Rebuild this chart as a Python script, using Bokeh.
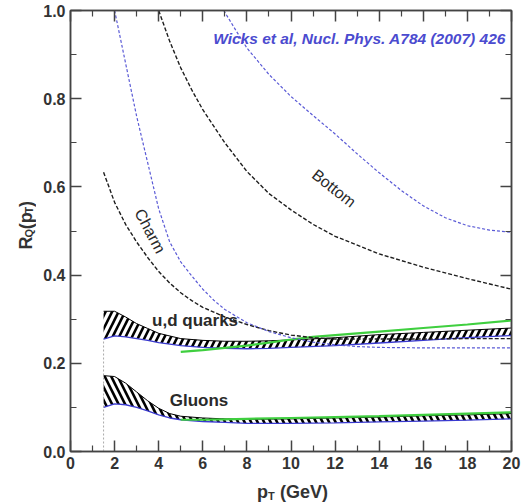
from math import pi
from bokeh.plotting import figure
from bokeh.layouts import column, row
from bokeh.models import LinearAxis, FixedTicker, Range1d, PrintfTickFormatter
from bokeh.embed import file_html
from bokeh.resources import INLINE
from bokeh.core.properties import value

FONT = "Liberation Sans"

# ---------------- data ----------------
x_ticks = [0, 2, 4, 6, 8, 10, 12, 14, 16, 18, 20]
x_minor = [1, 3, 5, 7, 9, 11, 13, 15, 17, 19]
y_ticks = [0.0, 0.2, 0.4, 0.6, 0.8, 1.0]
y_minor = [0.1, 0.3, 0.5, 0.7, 0.9]

bottom_k_x = [4.0, 4.5, 5.0, 5.5, 6.0, 7.0, 8.0, 9.0, 10, 11, 12, 14, 16, 18, 20]
bottom_k_y = [1.0, 0.93, 0.87, 0.82, 0.775, 0.70, 0.635, 0.585, 0.548, 0.515, 0.488, 0.448, 0.418, 0.392, 0.368]
bottom_b_x = [6.95, 7.5, 8.0, 9.0, 10, 11, 12, 13, 14, 15, 16, 17, 18, 19, 20]
bottom_b_y = [1.0, 0.955, 0.915, 0.855, 0.805, 0.762, 0.72, 0.675, 0.632, 0.592, 0.557, 0.53, 0.512, 0.502, 0.497]
charm_k_x = [1.5, 2.0, 2.5, 3.0, 3.5, 4.0, 4.5, 5.0, 5.5, 6.0, 7.0, 8.0, 9.0, 10, 11, 12, 14, 16, 18, 20]
charm_k_y = [0.633, 0.565, 0.515, 0.475, 0.44, 0.408, 0.382, 0.36, 0.342, 0.327, 0.305, 0.288, 0.274, 0.264, 0.258, 0.255, 0.255, 0.255, 0.256, 0.256]
charm_b_x = [2.0, 2.5, 3.0, 3.5, 4.0, 4.5, 5.0, 5.5, 6.0, 6.5, 7.0, 8.0, 9.0, 10, 11, 12, 13, 14, 16, 18, 20]
charm_b_y = [1.0, 0.88, 0.76, 0.655, 0.55, 0.475, 0.43, 0.398, 0.368, 0.343, 0.322, 0.292, 0.272, 0.258, 0.248, 0.242, 0.238, 0.236, 0.235, 0.235, 0.235]

ud_x = [1.5, 2.0, 2.5, 3.0, 3.5, 4.0, 5, 6, 7, 8, 9, 10, 12, 14, 16, 18, 20]
ud_hi = [0.318, 0.318, 0.305, 0.29, 0.279, 0.268, 0.256, 0.252, 0.25, 0.25, 0.251, 0.253, 0.258, 0.265, 0.27, 0.275, 0.28]
ud_lo = [0.255, 0.262, 0.26, 0.256, 0.252, 0.247, 0.24, 0.236, 0.234, 0.233, 0.234, 0.236, 0.24, 0.246, 0.252, 0.258, 0.263]
g_x = [1.5, 2.0, 2.5, 3.0, 3.5, 4.0, 4.5, 5.0, 6, 7, 8, 10, 12, 14, 16, 18, 20]
g_hi = [0.172, 0.17, 0.155, 0.135, 0.115, 0.098, 0.086, 0.08, 0.076, 0.074, 0.073, 0.074, 0.076, 0.078, 0.081, 0.083, 0.086]
g_lo = [0.1, 0.108, 0.106, 0.1, 0.092, 0.083, 0.076, 0.072, 0.068, 0.066, 0.064, 0.064, 0.065, 0.067, 0.069, 0.071, 0.074]

ud_green_x = [5, 6, 7, 8, 9, 10, 11, 12, 14, 16, 18, 20]
ud_green_y = [0.226, 0.23, 0.235, 0.24, 0.247, 0.254, 0.26, 0.264, 0.272, 0.28, 0.288, 0.297]
g_green_x = [5, 6, 7, 8, 10, 12, 14, 16, 18, 20]
g_green_y = [0.072, 0.072, 0.073, 0.074, 0.076, 0.078, 0.08, 0.083, 0.086, 0.089]

# ---------------- layout sizes ----------------
YT_W = 36          # strip holding the y title
MAIN_H = 476       # main figure height
XT_H = 26          # strip holding the x title
TOTAL_W = 521

# ---------------- main figure ----------------
p = figure(frame_width=441, frame_height=441,
           min_border_left=34, min_border_right=10, min_border_top=10, min_border_bottom=25,
           x_range=Range1d(0, 20), y_range=Range1d(0, 1),
           output_backend="svg", toolbar_location=None,
           background_fill_color="white", border_fill_color="white")
p.grid.visible = False
p.outline_line_color = "#444444"
p.outline_line_width = 1.5

AX = "#444444"


def style_axis(ax, ticks, minor, labels=True):
    ax.ticker = FixedTicker(ticks=ticks, minor_ticks=minor)
    ax.axis_line_color = AX
    ax.axis_line_width = 1.5
    ax.major_tick_in = 11
    ax.major_tick_out = 0
    ax.minor_tick_in = 6
    ax.minor_tick_out = 0
    ax.major_tick_line_color = AX
    ax.major_tick_line_width = 1.5
    ax.minor_tick_line_color = AX
    ax.minor_tick_line_width = 1.2
    ax.axis_label = None
    if labels:
        ax.major_label_text_font = FONT
        ax.major_label_text_font_size = "16px"
        ax.major_label_text_font_style = "bold"
        ax.major_label_text_color = "#333333"
    else:
        ax.major_label_overrides = {t: "" for t in ticks}
        ax.major_label_text_font_size = "1px"
        ax.major_label_standoff = 0


xa = p.xaxis[0]
ya = p.yaxis[0]
style_axis(xa, x_ticks, x_minor)
xa.major_label_standoff = 5
style_axis(ya, y_ticks, y_minor)
ya.formatter = PrintfTickFormatter(format="%.1f")
ya.major_label_standoff = 5

top = LinearAxis()
style_axis(top, x_ticks, x_minor, labels=False)
p.add_layout(top, "above")
right = LinearAxis()
style_axis(right, y_ticks, y_minor, labels=False)
p.add_layout(right, "right")

p.varea(x=ud_x, y1=ud_lo, y2=ud_hi, fill_color="white", hatch_pattern="/",
        hatch_color="black", hatch_scale=13, hatch_weight=2.6)
p.varea(x=g_x, y1=g_lo, y2=g_hi, fill_color="white", hatch_pattern="\\",
        hatch_color="black", hatch_scale=13, hatch_weight=2.6)
p.line(ud_x, ud_hi, line_color="black", line_width=1)
p.line(g_x, g_hi, line_color="black", line_width=1)
p.line(ud_x, ud_lo, line_color="#3a3ad0", line_width=1.3)
p.line(g_x, g_lo, line_color="#3a3ad0", line_width=1.3)

p.segment(x0=[ud_x[0]], y0=[0], x1=[ud_x[0]], y1=[ud_lo[0]],
          line_color="#aaaaaa", line_width=1, line_dash="2 2")

p.line(ud_green_x, ud_green_y, line_color="#3fcf3f", line_width=2.2)
p.line(g_green_x, g_green_y, line_color="#3fcf3f", line_width=2.2)

BLK = "#1e1e1e"
BLU = "#5a5ad6"
p.line(bottom_k_x, bottom_k_y, line_color=BLK, line_width=1.4, line_dash="4 2")
p.line(charm_k_x, charm_k_y, line_color=BLK, line_width=1.4, line_dash="4 2")
p.line(bottom_b_x, bottom_b_y, line_color=BLU, line_width=1.2, line_dash="3 2")
p.line(charm_b_x, charm_b_y, line_color=BLU, line_width=1.2, line_dash="3 2")

TXT = "#2a2a2a"
p.text(x=[3.61], y=[0.5], text=["Charm"], angle=-62 * pi / 180,
       text_font=value(FONT), text_font_size="16px", text_color=TXT,
       text_align="center", text_baseline="middle")
p.text(x=[11.95], y=[0.597], text=["Bottom"], angle=-38 * pi / 180,
       text_font=value(FONT), text_font_size="16px", text_color=TXT,
       text_align="center", text_baseline="middle")
p.text(x=[5.65], y=[0.297], text=["u,d quarks"], text_font=value(FONT),
       text_font_size="17px", text_font_style="bold", text_color=TXT,
       text_align="center", text_baseline="middle")
p.text(x=[5.83], y=[0.116], text=["Gluons"], text_font=value(FONT),
       text_font_size="17px", text_font_style="bold", text_color=TXT,
       text_align="center", text_baseline="middle")
p.text(x=[19.75], y=[0.9365], text=["Wicks et al, Nucl. Phys. A784 (2007) 426"],
       text_font=value(FONT), text_font_size="15.5px", text_font_style="bold italic",
       text_color="#4b4bcf", text_align="right", text_baseline="middle")


# ---------------- title strips (plain pixel frames) ----------------
def strip(w, h):
    f = figure(width=w, height=h, x_range=Range1d(0, w), y_range=Range1d(0, h),
               output_backend="svg", toolbar_location=None, min_border=0,
               x_axis_type=None, y_axis_type=None,
               background_fill_color="white", border_fill_color="white")
    f.outline_line_color = None
    f.grid.visible = False
    return f


def piece(f, x, y, t, size, angle=0.0):
    f.text(x=[x], y=[y], text=[t], angle=angle, text_font=value(FONT),
           text_font_size=size, text_font_style="bold", text_color="#333333",
           text_align="left", text_baseline="alphabetic")


yt = strip(YT_W, MAIN_H)
piece(yt, 25.5, MAIN_H - 258, "R", "18px", pi / 2)
piece(yt, 28.5, MAIN_H - 245, "Q", "11px", pi / 2)
piece(yt, 25.5, MAIN_H - 236, "(p", "18px", pi / 2)
piece(yt, 28.5, MAIN_H - 219, "T", "11px", pi / 2)
piece(yt, 25.5, MAIN_H - 212, ")", "18px", pi / 2)

H_ALL = MAIN_H + XT_H
xt = strip(TOTAL_W, XT_H)
piece(xt, 256.5, H_ALL - 491, "p", "18px")
piece(xt, 267.5, H_ALL - 495, "T", "11px")
piece(xt, 279.5, H_ALL - 491, "(GeV)", "18px")

layout = column(row(yt, p, spacing=0), xt, spacing=0)

open("out.html", "w").write(file_html(layout, INLINE))
